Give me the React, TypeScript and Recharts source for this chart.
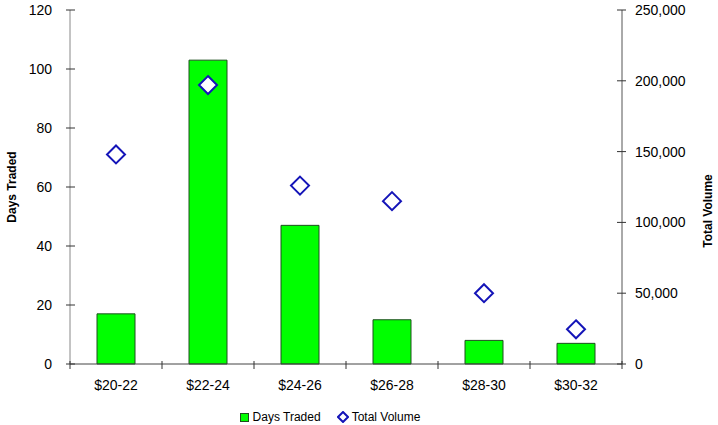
import React from "react";
import { ComposedChart, Bar, Line, XAxis, YAxis, Legend } from "recharts";

const CATEGORIES = ["$20-22", "$22-24", "$24-26", "$26-28", "$28-30", "$30-32"];
const DAYS_TRADED = [17, 103, 47, 15, 8, 7];
const TOTAL_VOLUME = [148000, 197000, 126000, 115000, 50000, 24500];
const LEFT_TICKS = [0, 20, 40, 60, 80, 100, 120];
const RIGHT_TICKS = [0, 50000, 100000, 150000, 200000, 250000];

const W = 718;
const H = 425;
const PLOT_LEFT = 70;
const PLOT_RIGHT = 622;
const PLOT_BOTTOM = 364;
const BAND = (PLOT_RIGHT - PLOT_LEFT) / CATEGORIES.length;
const FONT = "'Liberation Sans', Arial, Helvetica, sans-serif";

const chartData = CATEGORIES.map((cat, i) => ({
  cat,
  days: DAYS_TRADED[i],
  volume: TOTAL_VOLUME[i],
}));

const LeftTick = (props: any) => {
  const { y, payload } = props;
  return (
    <g>
      <line x1={PLOT_LEFT - 4} x2={PLOT_LEFT + 5} y1={y} y2={y} stroke="#333" />
      <text x={52} y={y + 5} textAnchor="end" fontSize={14} fill="#000" fontFamily={FONT}>
        {payload.value}
      </text>
    </g>
  );
};

const RightTick = (props: any) => {
  const { y, payload } = props;
  return (
    <g>
      <line x1={PLOT_RIGHT - 5} x2={PLOT_RIGHT + 4} y1={y} y2={y} stroke="#333" />
      <text x={635} y={y + 5} textAnchor="start" fontSize={14} fill="#000" fontFamily={FONT}>
        {payload.value.toLocaleString("en-US")}
      </text>
    </g>
  );
};

const BottomTick = (props: any) => {
  const { x, payload, index } = props;
  const left = x - BAND / 2;
  return (
    <g>
      <line x1={left} x2={left} y1={PLOT_BOTTOM - 3} y2={PLOT_BOTTOM + 5} stroke="#333" />
      {index === CATEGORIES.length - 1 && (
        <line x1={x + BAND / 2} x2={x + BAND / 2} y1={PLOT_BOTTOM - 3} y2={PLOT_BOTTOM + 5} stroke="#333" />
      )}
      <text x={x} y={390} textAnchor="middle" fontSize={14} fill="#000" fontFamily={FONT}>
        {payload.value}
      </text>
    </g>
  );
};

const Diamond = (props: any) => {
  const { cx, cy, index } = props;
  if (cx == null || cy == null) return <g key={index} />;
  const r = 9;
  return (
    <path
      key={index}
      d={`M${cx},${cy - r} L${cx + r},${cy} L${cx},${cy + r} L${cx - r},${cy} Z`}
      fill="#fff"
      stroke="#1414b8"
      strokeWidth={2}
    />
  );
};

const LegendContent = () => (
  <div
    style={{
      height: 26,
      paddingTop: 10,
      boxSizing: "border-box",
      display: "flex",
      justifyContent: "center",
      alignItems: "center",
      paddingRight: 58,
      fontFamily: FONT,
      fontSize: 12,
      lineHeight: "14px",
      color: "#000",
    }}
  >
    <svg width={9} height={9} style={{ marginRight: 4 }}>
      <rect x={0.5} y={0.5} width={8} height={8} fill="#00ff00" stroke="#1f4f1f" />
    </svg>
    <span style={{ marginRight: 16 }}>Days Traded</span>
    <svg width={12} height={12} style={{ marginRight: 3 }}>
      <path d="M6,1 L11,6 L6,11 L1,6 Z" fill="#fff" stroke="#1414b8" strokeWidth={2} />
    </svg>
    <span>Total Volume</span>
  </div>
);

const AxisTitle = ({ x, y, text }: { x: number; y: number; text: string }) => (
  <text
    x={x}
    y={y}
    transform={`rotate(-90 ${x} ${y})`}
    textAnchor="middle"
    fontSize={12}
    fontWeight="bold"
    fontFamily={FONT}
    fill="#000"
  >
    {text}
  </text>
);

export default function App() {
  return (
    <div style={{ position: "absolute", left: 0, top: 0, background: "#fff" }}>
      <ComposedChart
        width={W}
        height={H}
        data={chartData}
        margin={{ top: 10, right: 0, bottom: 0, left: 0 }}
        barCategoryGap="29%"
      >
        <XAxis
          dataKey="cat"
          height={35}
          interval={0}
          axisLine={{ stroke: "#444" }}
          tickLine={false}
          tick={<BottomTick />}
        />
        <YAxis
          yAxisId="left"
          width={70}
          domain={[0, 120]}
          ticks={LEFT_TICKS}
          axisLine={{ stroke: "#888" }}
          tickLine={false}
          tick={<LeftTick />}
          label={{ content: () => <AxisTitle x={16} y={187} text="Days Traded" /> }}
        />
        <YAxis
          yAxisId="right"
          orientation="right"
          width={96}
          domain={[0, 250000]}
          ticks={RIGHT_TICKS}
          axisLine={{ stroke: "#555" }}
          tickLine={false}
          tick={<RightTick />}
          label={{ content: () => <AxisTitle x={712} y={211} text="Total  Volume" /> }}
        />
        <Legend verticalAlign="bottom" height={26} content={<LegendContent />} />
        <Bar
          yAxisId="left"
          dataKey="days"
          name="Days Traded"
          fill="#00ff00"
          stroke="#1f4f1f"
          strokeWidth={1}
          barSize={38}
          isAnimationActive={false}
        />
        <Line
          yAxisId="right"
          dataKey="volume"
          name="Total Volume"
          stroke="none"
          dot={Diamond}
          activeDot={false}
          isAnimationActive={false}
        />
      </ComposedChart>
    </div>
  );
}
